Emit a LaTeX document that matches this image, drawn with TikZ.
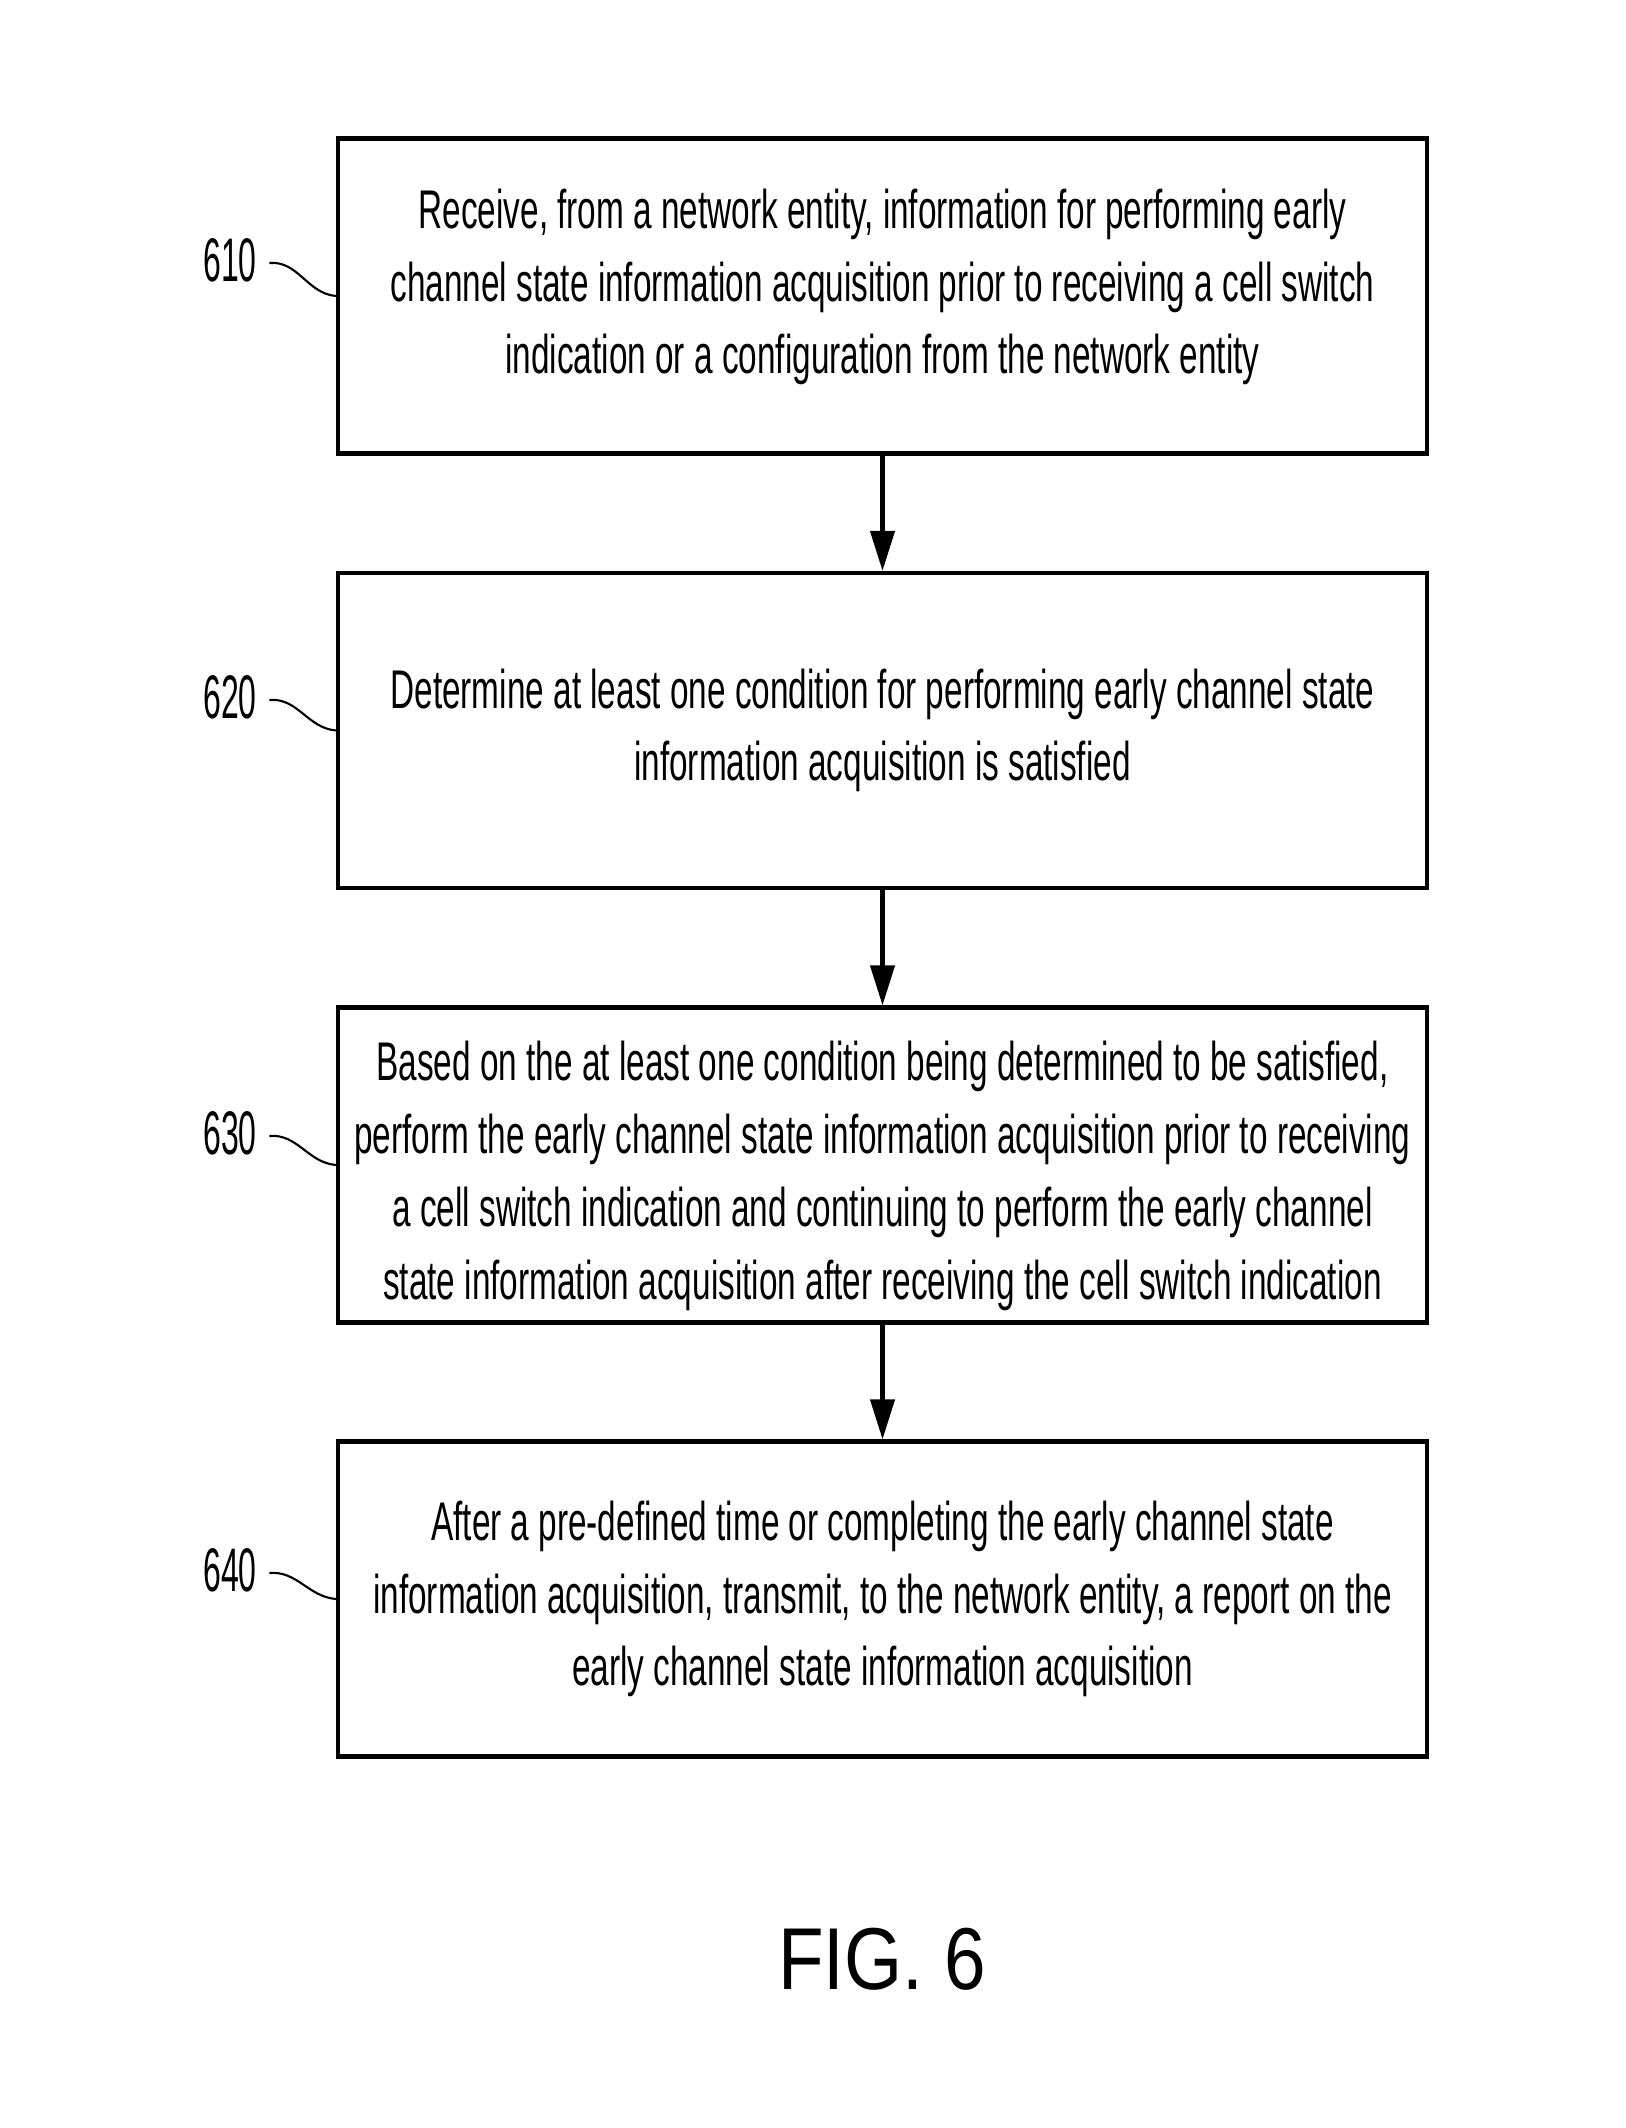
\documentclass[tikz,border=0pt]{standalone}
\usepackage{fontspec}
\setmainfont{Liberation Sans}
\newfontfamily\narrowfont[FakeStretch=0.612]{Liberation Sans}
\newfontfamily\numfont[FakeStretch=0.52]{Liberation Sans}
\newfontfamily\figfont[FakeStretch=0.85]{Liberation Sans}
\usetikzlibrary{calc}
\usetikzlibrary{arrows.meta}

\tikzset{
    stepbox/.style={draw, line width=1.2pt, minimum width=10.89cm, minimum height=3.15cm, inner sep=0pt},
    steptext/.style={inner sep=0pt, align=center, font=\narrowfont\fontsize{15.5}{20.7}\selectfont},
    reflabel/.style={inner sep=0pt, font=\numfont\fontsize{17.5}{20}\selectfont},
    flow/.style={line width=1.2pt, -{Triangle[length=4mm,width=2.4mm]}},
    leader/.style={line width=0.6pt}
}

\begin{document}
\begin{tikzpicture}
                    \useasboundingbox (0,0) rectangle (16.25,-21.28);

                    % steps
                    \node[stepbox] (b610) at (8.825,-2.96) {};
                    \node[stepbox] (b620) at (8.825,-7.305) {};
                    \node[stepbox] (b630) at (8.825,-11.65) {};
                    \node[stepbox] (b640) at (8.825,-15.99) {};

                    \node[steptext] (t610) at ([yshift=0.9mm]b610)
                        {Receive, from a network entity, information for performing early\\
                         channel state information acquisition prior to receiving a cell switch\\
                         indication or a configuration from the network entity};
                    \node[steptext] (t620) at (b620)
                        {Determine at least one condition for performing early channel state\\
                         information acquisition is satisfied};
                    \node[steptext] (t630) at ([yshift=-1.1mm]b630)
                        {Based on the at least one condition being determined to be satisfied,\\
                         perform the early channel state information acquisition prior to receiving\\
                         a cell switch indication and continuing to perform the early channel\\
                         state information acquisition after receiving the cell switch indication};
                    \node[steptext] (t640) at (b640)
                        {After a pre-defined time or completing the early channel state\\
                         information acquisition, transmit, to the network entity, a report on the\\
                         early channel state information acquisition};

                    \draw[flow] (b610) -- (b620);
                    \draw[flow] (b620) -- (b630);
                    \draw[flow] (b630) -- (b640);

                    % reference numerals
                    \node[reflabel] (l610) at (2.30,-2.60) {610};
                    \node[reflabel] (l620) at (2.30,-6.97) {620};
                    \node[reflabel] (l630) at (2.30,-11.33) {630};
                    \node[reflabel] (l640) at (2.30,-15.70) {640};

                    \draw[leader] ([xshift=1.2mm,yshift=-0.3mm]l610.east) to[out=5,in=175] (b610.west);
                    \draw[leader] ([xshift=1.2mm,yshift=-0.3mm]l620.east) to[out=5,in=175] (b620.west);
                    \draw[leader] ([xshift=1.2mm,yshift=-0.3mm]l630.east) to[out=5,in=175] (b630.west);
                    \draw[leader] ([xshift=1.2mm,yshift=-0.3mm]l640.east) to[out=5,in=175] (b640.west);

                    \node[font=\figfont\fontsize{25}{30}\selectfont] (fig) at (8.82,-19.59) {FIG. 6};
\end{tikzpicture}
\end{document}
